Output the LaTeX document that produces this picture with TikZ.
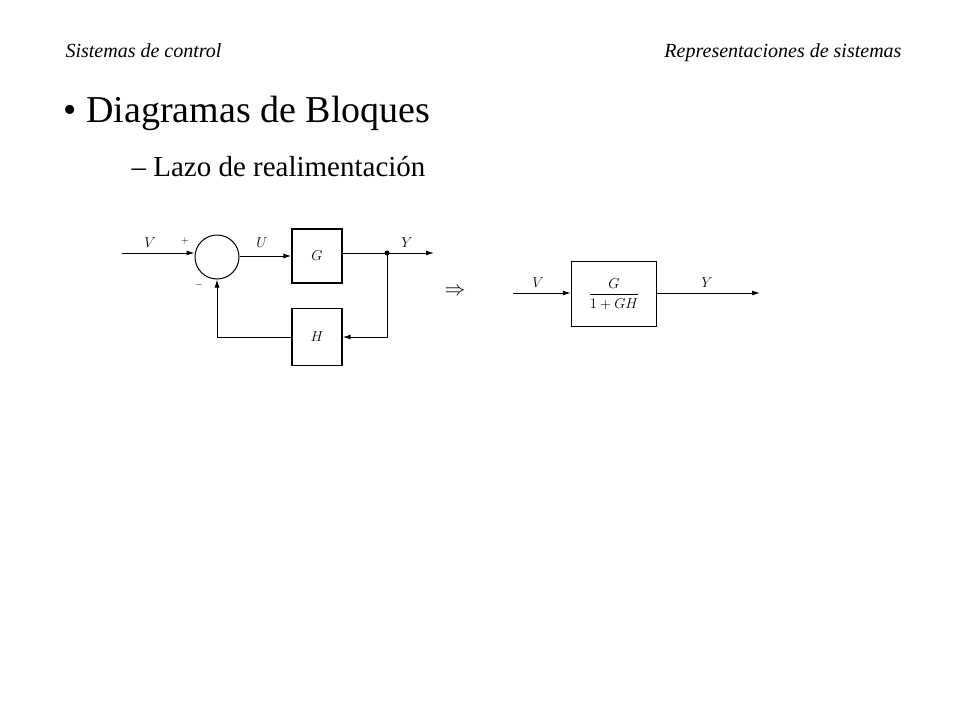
\documentclass[tikz,border=0pt]{standalone}
\usepackage{amsmath}
\usepackage{fontspec}
\setmainfont{Liberation Serif}
\usetikzlibrary{arrows.meta}

\tikzset{
  blk/.style={draw, line width=1.4pt, minimum width=50pt, minimum height=54pt, font=\itshape\fontsize{15}{15}\selectfont},
  sig/.style={line width=1pt, -{Latex[length=8pt,width=5pt]}},
  lbl/.style={font=\itshape\fontsize{15}{15}\selectfont}
}

\begin{document}
\begin{tikzpicture}[x=1pt,y=-1pt]
    \useasboundingbox (0,0) rectangle (960,720);

    % Headers
    \node[anchor=base west, font=\itshape\fontsize{20}{20}\selectfont] (hl) at (62,57) {Sistemas de control};
    \node[anchor=base east, font=\itshape\fontsize{20}{20}\selectfont] (hr) at (905,57) {Representaciones de sistemas};

    % Bullets
    \node[anchor=base west, font=\fontsize{38}{38}\selectfont] (b1) at (60,122) {\textbullet\ Diagramas de Bloques};
    \node[anchor=base west, font=\fontsize{29}{29}\selectfont] (b2) at (128,176) {\textendash\ Lazo de realimentación};

    % Feedback loop
    \coordinate (in) at (122,253);
    \node[draw, circle, line width=1pt, minimum size=44pt, inner sep=0pt] (sum) at (217,257) {};
    \node[blk] (G) at (317,256) {$G$};
    \node[blk, minimum height=57pt] (H) at (317,337) {$H$};
    \coordinate (jn) at (387,253);
    \coordinate (out) at (434,253);
    \fill (jn) circle (2.5pt);

    \draw[sig] (in) -- (sum.west |- in);
    \draw[sig] (sum.east |- G.west) -- (G.west);
    \draw[line width=1pt] (G.east |- jn) -- (jn);
    \draw[sig] (jn) -- (out);
    \draw[sig] (jn) |- (H.east |- 0,337);
    \draw[sig] (H.west |- 0,337) -| (sum.south);

    \node[lbl] (lv) at (150,243) {$V$};
    \node[font=\fontsize{10}{10}\selectfont] (lp) at (185,241) {$+$};
    \node[font=\fontsize{10}{10}\selectfont] (lm) at (199,285) {$-$};
    \node[lbl] (lu) at (262,243) {$U$};
    \node[lbl] (ly) at (407,243) {$Y$};

    % Implies
    \node[font=\fontsize{20}{20}\selectfont] (imp) at (455,292) {$\Rightarrow$};

    % Reduced block
    \coordinate (in2) at (513,293);
    \node[blk, minimum width=85pt, minimum height=65pt] (T) at (614,294) {$\dfrac{G}{1+GH}$};
    \coordinate (out2) at (760,293);
    \draw[sig] (in2) -- (T.west |- in2);
    \draw[sig] (T.east |- out2) -- (out2);
    \node[lbl] (lv2) at (538,283) {$V$};
    \node[lbl] (ly2) at (707,283) {$Y$};
\end{tikzpicture}
\end{document}
